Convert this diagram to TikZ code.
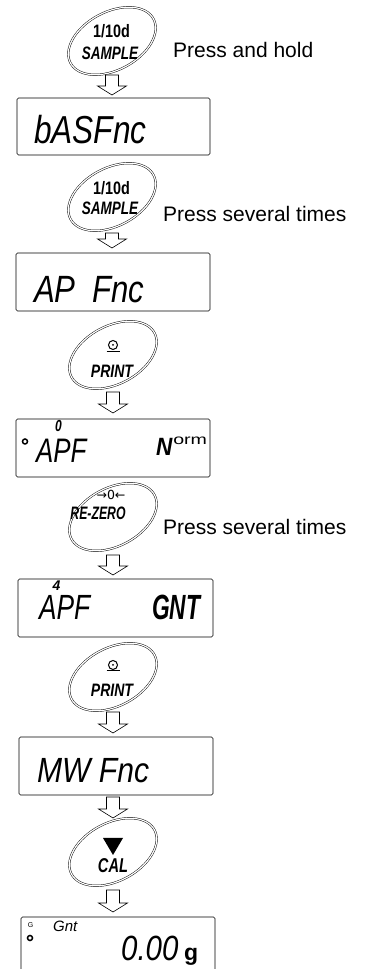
\documentclass[tikz,border=0pt]{standalone}
\usepackage{fontspec}
\setmainfont{Liberation Sans}
\newfontfamily\dejavu{DejaVu Sans}
\usetikzlibrary{shapes.geometric,calc}
\newcommand\fsz[1]{\fontsize{#1}{#1}\selectfont}
\begin{document}
\begin{tikzpicture}[x=1pt,y=1pt,
  btn/.style={ellipse, draw, double, double distance=1.2pt, line width=0.45pt,
    minimum width=94pt, minimum height=58pt, inner sep=0pt, rotate=28},
  disp/.style={draw, line width=0.6pt, rounded corners=1.5pt, inner sep=0pt,
    minimum width=194pt, minimum height=58pt},
  lbl/.style={font=\bfseries\itshape\fsz{18}, inner sep=0pt, anchor=base},
  press/.style={font=\fsz{21}, inner sep=0pt, anchor=base west},
  seg/.style={font=\itshape\fsz{35}, inner sep=0pt, anchor=base west},
  segb/.style={font=\bfseries\itshape\fsz{35}, inner sep=0pt, anchor=base west},
  ring/.style={circle, draw, line width=1.5pt, minimum size=5pt, inner sep=0pt},
  blk/.style 2 args={fill=white, draw, line width=0.6pt,
    to path={let \p1=(\tikztostart.center), \p2=(\tikztotarget.center) in
      (\x1-6.5pt,\y1-#1) -- (\x1-6.5pt,\y2+#2+9pt) -- (\x1-14.5pt,\y2+#2+9pt)
      -- (\x1,\y2+#2) -- (\x1+14.5pt,\y2+#2+9pt) -- (\x1+6.5pt,\y2+#2+9pt)
      -- (\x1+6.5pt,\y1-#1) -- cycle}},
  blkT/.style 2 args={fill=white, draw, line width=0.6pt,
    to path={let \p1=(\tikztostart.center), \p2=(\tikztotarget.center) in
      (\x2-6.5pt,\y1-#1) -- (\x2-6.5pt,\y2+#2+9pt) -- (\x2-14.5pt,\y2+#2+9pt)
      -- (\x2,\y2+#2) -- (\x2+14.5pt,\y2+#2+9pt) -- (\x2+6.5pt,\y2+#2+9pt)
      -- (\x2+6.5pt,\y1-#1) -- cycle}},
]
\useasboundingbox (0,0) rectangle (367,969);
\clip (0,0) rectangle (367,969);

% ---------- buttons ----------
\node[btn] (b1) at (112,928) {};
\node[btn] (b2) at (112,772) {};
\node[btn] (b3) at (113,614) {};
\node[btn] (b4) at (113,452) {};
\node[btn] (b5) at (113,292) {};
\node[btn] (b6) at (113,117) {};

% button labels
\node[lbl, font=\bfseries\fsz{18}, xscale=0.8] (l1a) at (111.5,931) {1/10d};
\node[lbl, xscale=0.75] (l1b) at (110,909) {SAMPLE};
\node[lbl, font=\bfseries\fsz{18}, xscale=0.8] (l2a) at (111.5,774) {1/10d};
\node[lbl, xscale=0.75] (l2b) at (110,754) {SAMPLE};

\node[circle, draw, line width=1pt, minimum size=9pt, inner sep=0pt] (p3c) at (113,624) {};
\node[circle, fill, minimum size=2pt, inner sep=0pt] (p3d) at (p3c) {};
\draw[line width=1pt] (106.5,617.5) -- (119.5,617.5);
\node[lbl, xscale=0.78] (l3) at (112,591) {PRINT};

\node[lbl, font=\dejavu\fsz{12.5}] (l4a) at (111,469) {→0←};
\node[lbl, xscale=0.68] (l4b) at (98,449) {RE-ZERO};

\node[circle, draw, line width=1pt, minimum size=9pt, inner sep=0pt] (p5c) at (113,304) {};
\node[circle, fill, minimum size=2pt, inner sep=0pt] (p5d) at (p5c) {};
\draw[line width=1pt] (106.5,298) -- (119.5,298);
\node[lbl, xscale=0.78] (l5) at (112,272) {PRINT};

\fill (103,131) -- (123,131) -- (113,114) -- cycle;
\node[lbl, font=\bfseries\itshape\fsz{20}, xscale=0.73] (l6) at (113,96) {CAL};

% side texts
\node[press] (t1) at (173,911) {Press and hold};
\node[press] (t2) at (163,747) {Press several times};
\node[press] (t3) at (163,434) {Press several times};

% ---------- displays ----------
\node[disp, minimum width=193pt, minimum height=57pt] (d1) at (113.5,842.5) {};
\node[seg, font=\itshape\fsz{39}, xscale=0.81] (d1t) at (34,825) {bASFnc};

\node[disp] (d2) at (113,687) {};
\node[seg, font=\itshape\fsz{38}, xscale=0.82] (d2t) at (34,666) {AP\hspace{0.25em} Fnc};

\node[disp] (d3) at (113,521) {};
\node[ring] (d3r) at (25,527.5) {};
\node[lbl, font=\bfseries\itshape\fsz{16}, xscale=0.75] (d3z) at (58.5,537) {0};
\node[seg, font=\itshape\fsz{34}, xscale=0.76] (d3t) at (36,506) {APF};
\node[segb, font=\bfseries\itshape\fsz{25}, xscale=0.9] (d3n) at (156,513) {N};
\node[seg, font=\fsz{14}, xscale=1.4] (d3o) at (173,524) {orm};

\node[disp, minimum width=195pt] (d4) at (115.5,361) {};
\node[lbl, font=\bfseries\itshape\fsz{14}] (d4z) at (56.5,378) {4};
\node[seg, xscale=0.75] (d4t) at (39,349) {APF};
\node[segb, xscale=0.65] (d4g) at (152,349) {GNT};

\node[disp] (d5) at (116,203) {};
\node[seg, xscale=0.86] (d5t) at (37,186) {MW Fnc};

\node[disp] (d6) at (118,23) {};
\node[lbl, font=\fsz{7}] (d6g) at (30.5,41) {G};
\node[ring] (d6r) at (30,31) {};
\node[seg, font=\itshape\fsz{15}] (d6n) at (53,37) {Gnt};
\node[seg, xscale=0.84] (d6v) at (121,9) {0.00};
\node[seg, font=\bfseries\fsz{23}] (d6u) at (184,9) {g};

% ---------- block arrows ----------
\draw[blk={34pt}{31.5pt}] (b1) to (d1);
\draw[blk={36pt}{34pt}] (b2) to (d2);
\draw[blk={37pt}{35pt}] (b3) to (d3);
\draw[blk={38pt}{33pt}] (b4) to (d4);
\draw[blk={35pt}{33pt}] (b5) to (d5);
\draw[blkT={31pt}{34pt}] (d5) to (b6);
\draw[blk={38pt}{34pt}] (b6) to (d6);
\end{tikzpicture}
\end{document}
